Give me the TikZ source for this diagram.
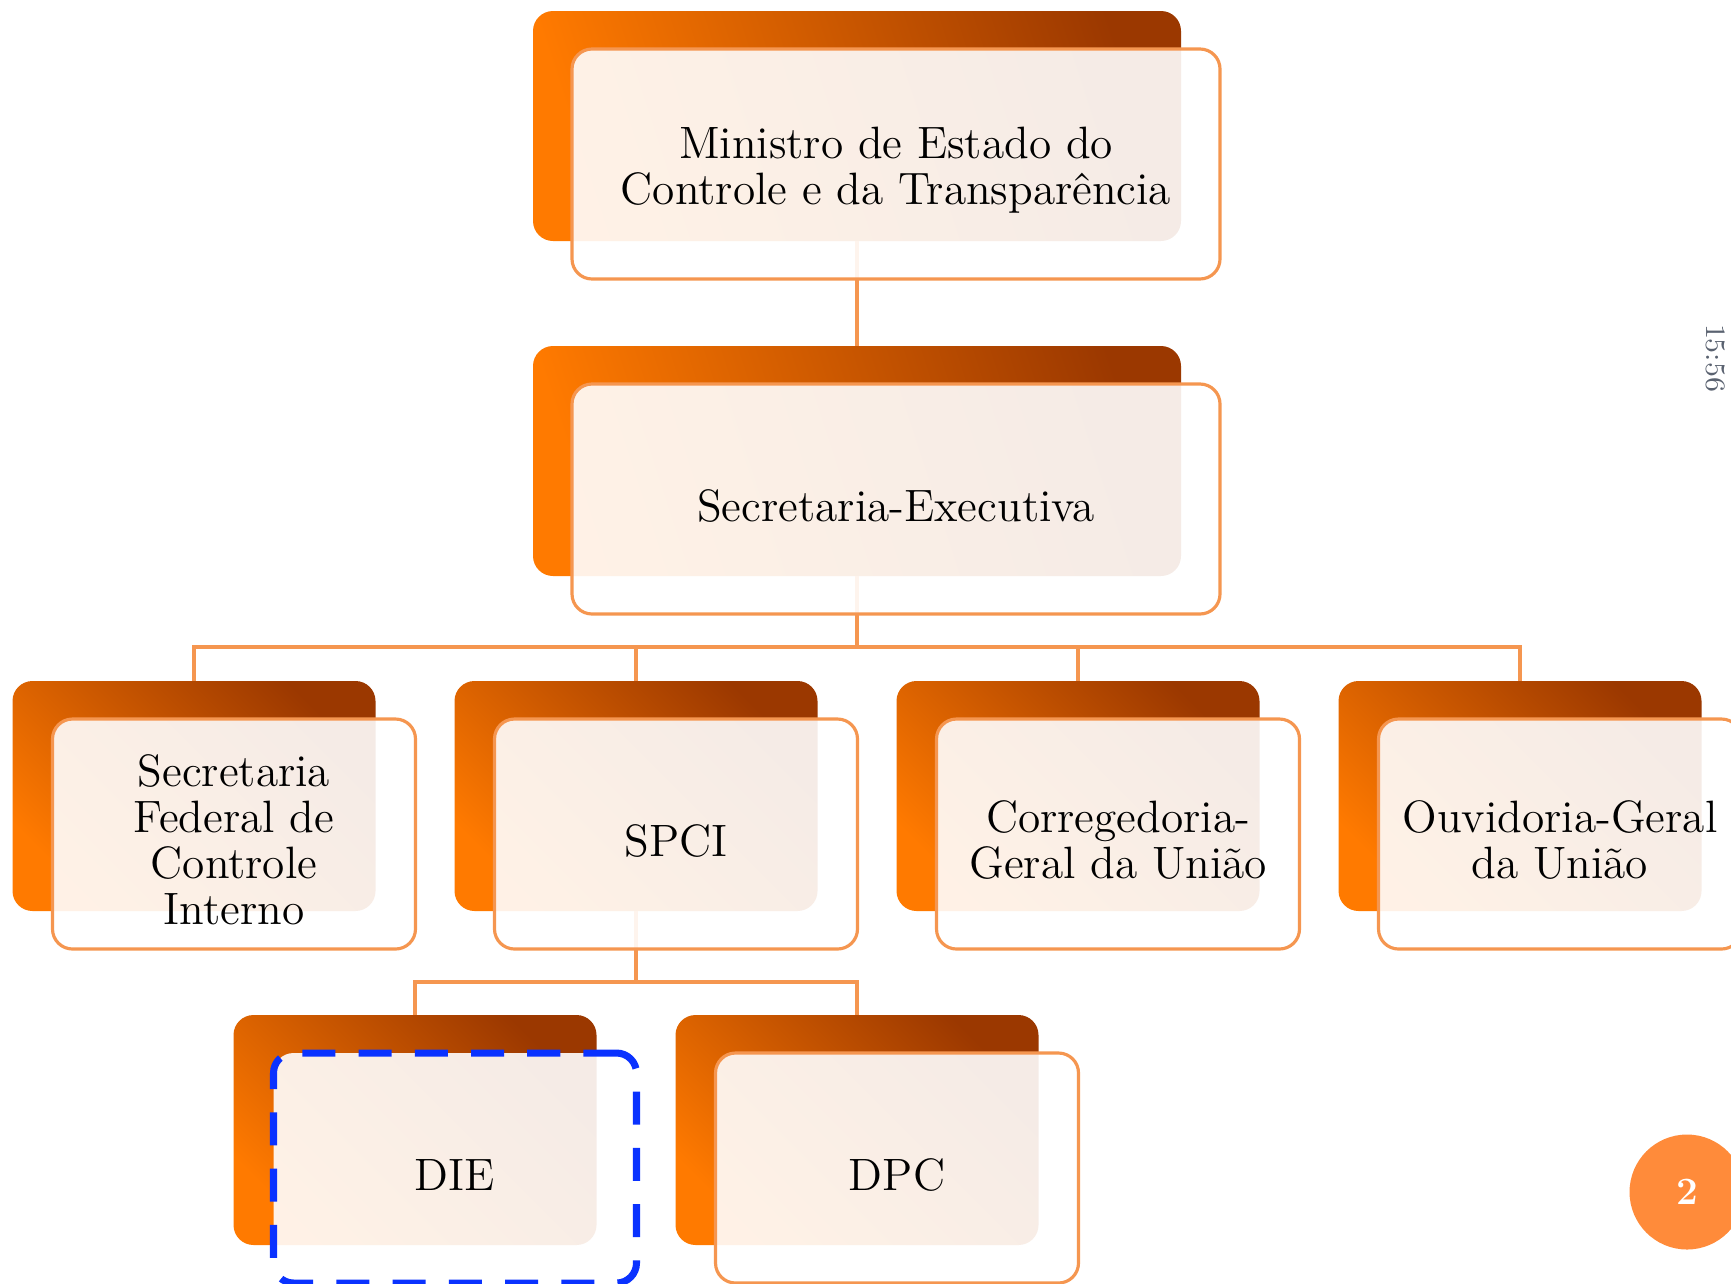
\documentclass[tikz,border=0pt]{standalone}
\usepackage{tikz}
\usetikzlibrary{positioning}

\definecolor{boxorange}{RGB}{255,122,0}
\definecolor{boxbrown}{RGB}{155,56,0}
\definecolor{linkorange}{RGB}{245,150,80}
\definecolor{diedash}{RGB}{10,50,255}
\definecolor{pagenum}{RGB}{255,139,58}
\definecolor{clockgray}{RGB}{90,98,112}

% raises the first line of a multi-line card a little
\newcommand{\cardtop}{\rule{0pt}{12.5pt}}

\begin{document}
\begin{tikzpicture}[x=0.1mm,y=-0.1mm,
  backbox/.style={rounded corners=2mm, inner sep=0pt, outer sep=0pt,
    left color=boxorange, right color=boxbrown, shading angle=135,
    minimum width=36.3mm, minimum height=23mm},
  widebox/.style={backbox, minimum width=64.8mm, shading angle=108},
  frontbox/.style={draw=linkorange, line width=0.9pt, rounded corners=2mm,
    fill=white, fill opacity=0.9, text opacity=1, inner sep=0pt, outer sep=0pt,
    minimum width=36.3mm, minimum height=23mm, align=center,
    font=\fontsize{12.9}{13.1}\selectfont,
    execute at begin node={\rule{0pt}{13pt}}},
  widefront/.style={frontbox, minimum width=64.8mm},
  diebox/.style={frontbox, draw=diedash, line width=2pt,
    dash pattern=on 9.4pt off 6.6pt},
  link/.style={draw=linkorange, line width=0.9pt}]
  \path[use as bounding box] (0,0) rectangle (1731,1283);
  \clip (0,0) rectangle (1731,1283);

  % back plates
  \node[widebox] (ministroBack) at (857,126) {};
  \node[widebox] (secexBack) at (857,461) {};
  \node[backbox] (sfciBack) at (194,796) {};
  \node[backbox] (spciBack) at (636,796) {};
  \node[backbox] (crgBack) at (1078,796) {};
  \node[backbox] (oguBack) at (1520,796) {};
  \node[backbox] (dieBack) at (415,1130) {};
  \node[backbox] (dpcBack) at (857,1130) {};

  % connectors
  \coordinate (busA) at (857,647);
  \coordinate (busB) at (636,982);
  \draw[link] (ministroBack.south) -- (secexBack.north);
  \draw[link] (secexBack.south) -- (busA) -| (sfciBack.north);
  \draw[link] (busA) -| (spciBack.north);
  \draw[link] (busA) -| (crgBack.north);
  \draw[link] (busA) -| (oguBack.north);
  \draw[link] (spciBack.south) -- (busB) -| (dieBack.north);
  \draw[link] (busB) -| (dpcBack.north);

  % front cards
  \node[widefront] (ministro) at ([shift={(39,38)}]ministroBack)
    {\cardtop Ministro de Estado do\\Controle e da Transpar\^encia};
  \node[widefront] (secex) at ([shift={(39,38)}]secexBack)
    {Secretaria-Executiva};
  \node[frontbox] (sfci) at ([shift={(40,38)}]sfciBack)
    {\cardtop Secretaria\\Federal de\\Controle\\Interno};
  \node[frontbox] (spci) at ([shift={(40,38)}]spciBack) {SPCI};
  \node[frontbox] (crg) at ([shift={(40,38)}]crgBack)
    {\cardtop Corregedoria-\\Geral da Uni\~ao};
  \node[frontbox] (ogu) at ([shift={(40,38)}]oguBack)
    {\cardtop Ouvidoria-Geral\\da Uni\~ao};
  \node[diebox] (die) at ([shift={(40,38)}]dieBack) {DIE};
  \node[frontbox] (dpc) at ([shift={(40,38)}]dpcBack) {DPC};

  % slide furniture
  \node[rotate=-90, text=clockgray, font=\fontsize{8}{9}\selectfont]
    (clock) at (1716,358) {15:56};
  \node[circle, fill=pagenum, minimum size=11.5mm, inner sep=0pt, text=white,
    font=\bfseries\fontsize{11}{12}\selectfont] (pagenr) at (1687,1192) {2};
\end{tikzpicture}
\end{document}
